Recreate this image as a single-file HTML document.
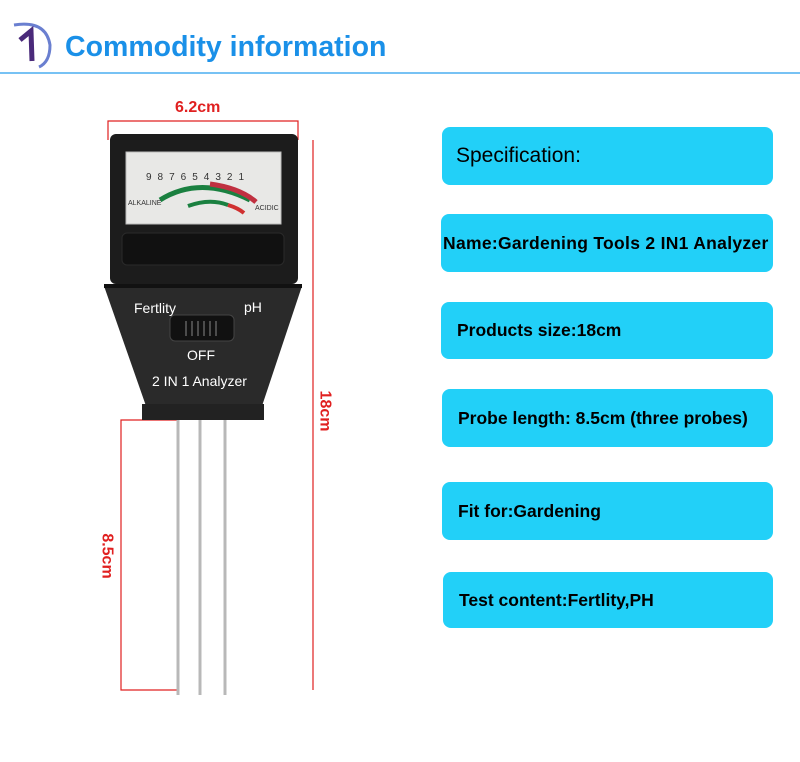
<!DOCTYPE html>
<html><head><style>
body{margin:0;width:800px;height:762px;background:#fff;position:relative;overflow:hidden;font-family:"Liberation Sans",sans-serif}
.b{position:absolute;background:#22d0f8;border-radius:8px;color:#000;font-size:17.5px;font-weight:bold;display:flex;align-items:center;box-sizing:border-box}
.t{position:absolute;white-space:nowrap}
.r{color:#e02020;font-size:16px;font-weight:bold}
</style></head><body>
<svg width="800" height="762" style="position:absolute;left:0;top:0">
<path d="M14 25 Q46 20 50 45 Q50 62 39 67" stroke="#6a7fd0" stroke-width="3" fill="none"/>
<path d="M20 40 L31 31 L32 61" stroke="#4a2a7a" stroke-width="5" fill="none"/>
<line x1="0" y1="73" x2="800" y2="73" stroke="#4aaef0" stroke-width="1.5"/>
<g stroke="#e02020" stroke-width="1.2" fill="none">
<path d="M108 140 V121 H298 V140"/>
<line x1="313" y1="140" x2="313" y2="690"/>
<path d="M178 420 H121 V690 H178"/>
</g>
<rect x="110" y="134" width="188" height="150" rx="6" fill="#1c1c1c"/>
<rect x="126" y="152" width="155" height="72" fill="#e8e8e6" stroke="#bbb"/>
<path d="M160 200 Q200 175 250 200" stroke="#1a8040" stroke-width="5" fill="none"/>
<path d="M210 184 Q240 188 256 202" stroke="#c03040" stroke-width="5" fill="none"/>
<path d="M188 206 Q210 198 228 205" stroke="#1a8040" stroke-width="4" fill="none"/>
<path d="M228 205 Q238 208 244 213" stroke="#d03030" stroke-width="4" fill="none"/>
<rect x="122" y="233" width="162" height="32" rx="5" fill="#111" stroke="#2a2a2a"/>
<path d="M104 286 H302 L262 406 H146 Z" fill="#2a2a2a"/>
<rect x="104" y="284" width="198" height="4" fill="#111"/>
<rect x="142" y="404" width="122" height="16" fill="#222"/>
<rect x="170" y="315" width="64" height="26" rx="5" fill="#111" stroke="#444"/>
<g stroke="#888" stroke-width="1"><line x1="186" y1="321" x2="186" y2="336"/><line x1="192" y1="321" x2="192" y2="336"/><line x1="198" y1="321" x2="198" y2="336"/><line x1="204" y1="321" x2="204" y2="336"/><line x1="210" y1="321" x2="210" y2="336"/><line x1="216" y1="321" x2="216" y2="336"/></g>
<g stroke="#b8b8b8" stroke-width="3"><line x1="178" y1="420" x2="178" y2="695"/><line x1="200" y1="420" x2="200" y2="695"/><line x1="225" y1="420" x2="225" y2="695"/></g>
</svg>
<div class="t" style="left:65px;top:31px;font-size:28.5px;font-weight:bold;color:#1a90e8">Commodity information</div>
<div class="t r" style="left:175px;top:99px">6.2cm</div>
<div class="t r" style="left:304px;top:402px;transform:rotate(90deg)">18cm</div>
<div class="t r" style="left:84px;top:547px;transform:rotate(90deg)">8.5cm</div>
<div class="t" style="left:128px;top:200px;font-size:7px;color:#333">ALKALINE</div>
<div class="t" style="left:255px;top:205px;font-size:7px;color:#333">ACIDIC</div>
<div class="t" style="left:146px;top:172px;font-size:10px;color:#333;letter-spacing:6px">987654321</div>
<div class="t" style="left:134px;top:300px;font-size:14px;color:#fff">Fertlity</div>
<div class="t" style="left:244px;top:299px;font-size:14px;color:#fff">pH</div>
<div class="t" style="left:187px;top:347px;font-size:14px;color:#fff">OFF</div>
<div class="t" style="left:152px;top:373px;font-size:14px;color:#fff">2 IN 1 Analyzer</div>
<div class="b" style="left:442px;top:127px;width:331px;height:58px;padding-left:14px;font-size:21px;font-weight:normal">Specification:</div>
<div class="b" style="left:441px;top:214px;width:332px;height:58px;padding-left:2px;letter-spacing:0.3px">Name:Gardening Tools 2 IN1 Analyzer</div>
<div class="b" style="left:441px;top:302px;width:332px;height:57px;padding-left:16px">Products size:18cm</div>
<div class="b" style="left:442px;top:389px;width:331px;height:58px;padding-left:16px">Probe length: 8.5cm (three probes)</div>
<div class="b" style="left:442px;top:482px;width:331px;height:58px;padding-left:16px">Fit for:Gardening</div>
<div class="b" style="left:443px;top:572px;width:330px;height:56px;padding-left:16px">Test content:Fertlity,PH</div>
</body></html>
